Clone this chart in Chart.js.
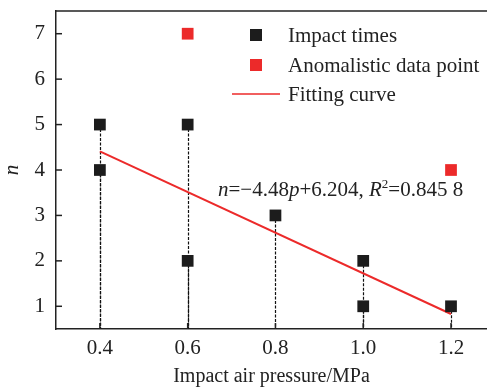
<!DOCTYPE html>
<html>
<head>
<meta charset="utf-8">
<script src="https://cdn.jsdelivr.net/npm/chart.js@4"></script>
<style>
  html, body { margin: 0; padding: 0; background: #fff; }
  #wrap { position: relative; width: 487px; height: 389px; }
  #eq {
    position: absolute; left: 218px; top: 177px;
    font-family: "Liberation Serif", serif; font-size: 21px; color: #222;
    white-space: nowrap;
  }
  #eq i { font-style: italic; }
  #eq sup { font-size: 13px; vertical-align: 8px; line-height: 0; }
</style>
</head>
<body>
<div id="wrap">
  <canvas id="myChart" width="487" height="389"></canvas>
  <div id="eq"><i>n</i>=&minus;4.48<i>p</i>+6.204, <i>R</i><sup>2</sup>=0.845 8</div>
</div>
<script>
// Impact times (black squares)
let impactP = [0.4, 0.4, 0.6, 0.6, 0.8, 1.0, 1.0, 1.2];
let impactN = [5, 4, 5, 2, 3, 2, 1, 1];

// Anomalistic data points (red squares)
let anomP = [0.6, 1.2];
let anomN = [7, 4];

// Fitting curve end points
let fitP = [0.4, 1.2];
let fitN = [4.41, 0.83];

let xTicks = [0.4, 0.6, 0.8, 1.0, 1.2];
let yTicks = [1, 2, 3, 4, 5, 6, 7];

const ink = '#222222';
const red = '#ec2a2a';
const serif = '"Liberation Serif", serif';

function toXY(xs, ys) {
    return xs.map(function(x, i) { return { x: x, y: ys[i] }; });
}

// dashed drop lines, inward ticks, top border and legend
const framePlugin = {
    id: 'frame',
    beforeDatasetsDraw: function(chart) {
        const ctx = chart.ctx;
        const xs = chart.scales.x, ys = chart.scales.y;
        const area = chart.chartArea;
        ctx.save();
        ctx.strokeStyle = '#111';
        ctx.lineWidth = 1.2;
        ctx.setLineDash([3, 1.5]);
        impactP.forEach(function(p, i) {
            const px = Math.round(xs.getPixelForValue(p)) + 0.5;
            ctx.beginPath();
            ctx.moveTo(px, ys.getPixelForValue(impactN[i]));
            ctx.lineTo(px, area.bottom);
            ctx.stroke();
        });
        ctx.setLineDash([]);
        ctx.strokeStyle = ink;
        ctx.lineWidth = 1.5;
        yTicks.forEach(function(v) {
            const py = ys.getPixelForValue(v);
            ctx.beginPath();
            ctx.moveTo(area.left, py);
            ctx.lineTo(area.left + 6, py);
            ctx.stroke();
        });
        xTicks.forEach(function(v) {
            const px = xs.getPixelForValue(v);
            ctx.beginPath();
            ctx.moveTo(px, area.bottom);
            ctx.lineTo(px, area.bottom - 6);
            ctx.stroke();
        });
        ctx.beginPath();
        ctx.moveTo(area.left, area.top);
        ctx.lineTo(area.right, area.top);
        ctx.stroke();
        ctx.restore();
    },
    afterDatasetsDraw: function(chart) {
        const ctx = chart.ctx;
        ctx.save();
        ctx.font = '21px ' + serif;
        ctx.textBaseline = 'middle';
        const rows = [35, 65, 94];
        chart.data.datasets.forEach(function(ds, i) {
            const y = rows[i];
            if (ds.showLine) {
                ctx.strokeStyle = ds.borderColor;
                ctx.lineWidth = 1.5;
                ctx.beginPath();
                ctx.moveTo(232, y);
                ctx.lineTo(280, y);
                ctx.stroke();
            } else {
                ctx.fillStyle = ds.backgroundColor;
                ctx.fillRect(250, y - 6, 12, 12);
            }
            ctx.fillStyle = ink;
            ctx.fillText(ds.label, 288, y + 1);
        });
        ctx.restore();
    }
};

document.addEventListener('DOMContentLoaded', function() {
    const data = {
        datasets: [{
            label: 'Impact times',
            data: toXY(impactP, impactN),
            showLine: false,
            pointStyle: 'rect',
            pointRadius: 8.3,
            pointHoverRadius: 8.3,
            backgroundColor: '#1c1c1c',
            borderColor: '#1c1c1c',
            borderWidth: 0,
            order: 1
        }, {
            label: 'Anomalistic data point',
            data: toXY(anomP, anomN),
            showLine: false,
            pointStyle: 'rect',
            pointRadius: 8.3,
            pointHoverRadius: 8.3,
            backgroundColor: red,
            borderColor: red,
            borderWidth: 0,
            order: 1
        }, {
            label: 'Fitting curve',
            data: toXY(fitP, fitN),
            showLine: true,
            pointRadius: 0,
            borderColor: red,
            borderWidth: 2,
            order: 2
        }]
    };

    const config = {
        type: 'scatter',
        data: data,
        options: {
            responsive: false,
            animation: false,
            clip: false,
            layout: { autoPadding: false, padding: { top: 11, right: 0, left: 0, bottom: 0 } },
            plugins: { legend: { display: false }, tooltip: { enabled: false } },
            scales: {
                x: {
                    min: 0.3,
                    max: 1.282,
                    afterBuildTicks: function(axis) {
                        axis.ticks = xTicks.map(function(v) { return { value: v }; });
                    },
                    afterFit: function(axis) {
                        axis.height = 60;
                        axis.paddingLeft = 0;
                        axis.paddingRight = 0;
                    },
                    grid: { display: false, drawTicks: false },
                    border: { color: ink, width: 1.5 },
                    ticks: {
                        padding: 7,
                        color: ink,
                        font: { family: serif, size: 21 },
                        callback: function(v) { return v.toFixed(1); }
                    },
                    title: {
                        display: true,
                        text: 'Impact air pressure/MPa',
                        color: ink,
                        font: { family: serif, size: 20 },
                        padding: { top: 2, bottom: 0 }
                    }
                },
                y: {
                    min: 0.5,
                    max: 7.5,
                    afterBuildTicks: function(axis) {
                        axis.ticks = yTicks.map(function(v) { return { value: v }; });
                    },
                    afterFit: function(axis) {
                        axis.width = 56;
                        axis.paddingTop = 0;
                        axis.paddingBottom = 0;
                    },
                    grid: { display: false, drawTicks: false },
                    border: { color: ink, width: 1.5 },
                    ticks: {
                        padding: 11,
                        color: ink,
                        font: { family: serif, size: 21 }
                    },
                    title: {
                        display: true,
                        text: 'n',
                        color: ink,
                        font: { family: serif, size: 21, style: 'italic' },
                        padding: { top: 0, bottom: 2 }
                    }
                }
            }
        },
        plugins: [framePlugin]
    };

    const myChart = new Chart(document.getElementById('myChart'), config);
});
</script>
</body>
</html>
